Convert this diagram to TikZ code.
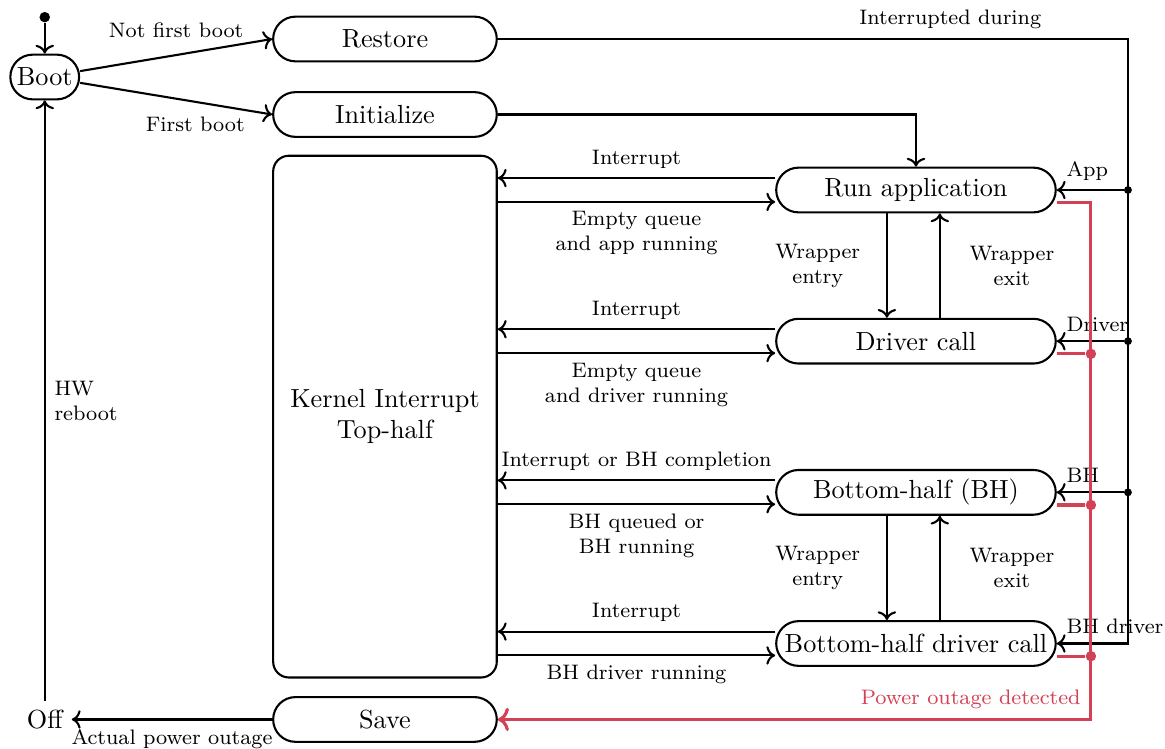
\documentclass[tikz,border=0pt]{standalone}
\usepackage{tikz}
\usetikzlibrary{positioning, arrows.meta, calc}
\definecolor{outageColor}{RGB}{210, 65, 85}
\tikzset{
    boot_state/.style={
        draw,
        thick,
        rounded corners=8.5pt,
        minimum height=0.6cm,
        inner xsep=2.5pt
    },
    left_state/.style={
        draw,
        thick,
        rounded corners=8.5pt,
        minimum width=3cm,
        minimum height=0.6cm
    },
    right_state/.style={
        draw,
        thick,
        rounded corners=8.5pt,
        minimum width=3.75cm,
        minimum height=0.6cm,
        inner xsep=2pt
    },
    kernel_state/.style={
        draw,
        thick,
        rounded corners=6pt,
        minimum width=3cm,
        minimum height=7cm,
        align=center
    },
    tr_edge/.style={
        ->,
        thick
    },
    tr_label/.style={
        font=\footnotesize,
        align=center
    },
    outage_edge/.style={
        very thick,
        draw=outageColor
    },
    junction/.style={
        circle,
        fill,
        inner sep=0pt,
        minimum size=3pt
    },
    outage_junction/.style={
        junction,
        fill=outageColor,
        minimum size=4pt
    }
}

\begin{document}
\begin{tikzpicture}
    \useasboundingbox (0,0) rectangle (15.63,-10.048);

    % left column
    \node[junction, minimum size=4pt] (start) at (0.60,-0.23) {};
    \node[boot_state] (boot) at (0.60,-1.033) {Boot};
    \node[left_state] (restore) at (5.165,-0.523) {Restore};
    \node[left_state, below=0.385cm of restore] (init) {Initialize};
    \node[kernel_state, below=0.225cm of init] (kernel) {Kernel Interrupt\\Top-half};
    \node[left_state, below=0.235cm of kernel] (save) {Save};
    \node (off) at (boot |- save) {Off};

    % right column
    \node[right_state] (run) at (12.289,-2.549) {Run application};
    \node[right_state, below=1.40cm of run] (driver) {Driver call};
    \node[right_state, below=1.40cm of driver] (bh) {Bottom-half (BH)};
    \node[right_state, below=1.40cm of bh] (bhdrv) {Bottom-half driver call};

    \coordinate (bus) at (15.133,0);
    \coordinate (outage) at (14.636,0);

    \draw[tr_edge] (start) -- (boot);
    \draw[tr_edge] (boot) -- node[tr_label, above=3pt] {Not first boot} (restore.west);
    \draw[tr_edge] (boot) -- node[tr_label, below=2pt, pos=0.6] {First boot} (init.west);
    \draw[tr_edge] (init.east) -| (run.north);
    \draw[tr_edge] (save.west) -- node[tr_label, below] {Actual power outage} (off);
    \draw[tr_edge] (off) -- node[tr_label, right, align=left] {HW\\reboot} (boot);

    % kernel <-> tasks
    \foreach \task/\intr/\back in {
        run/Interrupt/{Empty queue\\and app running},
        driver/Interrupt/{Empty queue\\and driver running},
        bh/{Interrupt or BH completion}/{BH queued or\\BH running},
        bhdrv/Interrupt/{BH driver running}}
    {
        \draw[tr_edge] ([yshift=0.16cm]\task.west)
            -- node[tr_label, above] {\intr} ([yshift=0.16cm]\task.west -| kernel.east);
        \draw[tr_edge] ([yshift=-0.16cm]\task.west -| kernel.east)
            -- node[tr_label, below] {\back} ([yshift=-0.16cm]\task.west);
    }

    % wrappers
    \foreach \upper/\lower in {run/driver, bh/bhdrv}
    {
        \draw[tr_edge] ([xshift=-0.39cm]\upper.south)
            -- node[tr_label, left=6.5pt] {Wrapper\\entry} ([xshift=-0.39cm]\upper.south |- \lower.north);
        \draw[tr_edge] ([xshift=0.32cm]\lower.north)
            -- node[tr_label, right=7.6pt] {Wrapper\\exit} ([xshift=0.32cm]\lower.north |- \upper.south);
    }

    % interrupted during
    \draw[tr_edge] (restore.east)
        -- node[tr_label, above, pos=0.718] {Interrupted during} (restore.east -| bus)
        -- (bus |- bhdrv.east)
        -- (bhdrv.east) node[tr_label, above right] {BH driver};
    \foreach \task/\name in {run/App, driver/Driver, bh/BH}
    {
        \node[junction] (j\task) at (bus |- \task.east) {};
        \draw[tr_edge] (j\task) -- (\task.east) node[tr_label, above right] {\name};
    }

    % power outage
    \draw[outage_edge, ->] ([yshift=-0.17cm]run.east)
        -- ([yshift=-0.17cm]run.east -| outage)
        -- (outage |- save.east)
        node[tr_label, above left, text=outageColor] {Power outage detected}
        -- (save.east);
    \foreach \task in {driver, bh, bhdrv}
    {
        \node[outage_junction] (o\task) at ([yshift=-0.17cm]\task.east -| outage) {};
        \draw[outage_edge] ([yshift=-0.17cm]\task.east) -- (o\task);
    }
\end{tikzpicture}
\end{document}
